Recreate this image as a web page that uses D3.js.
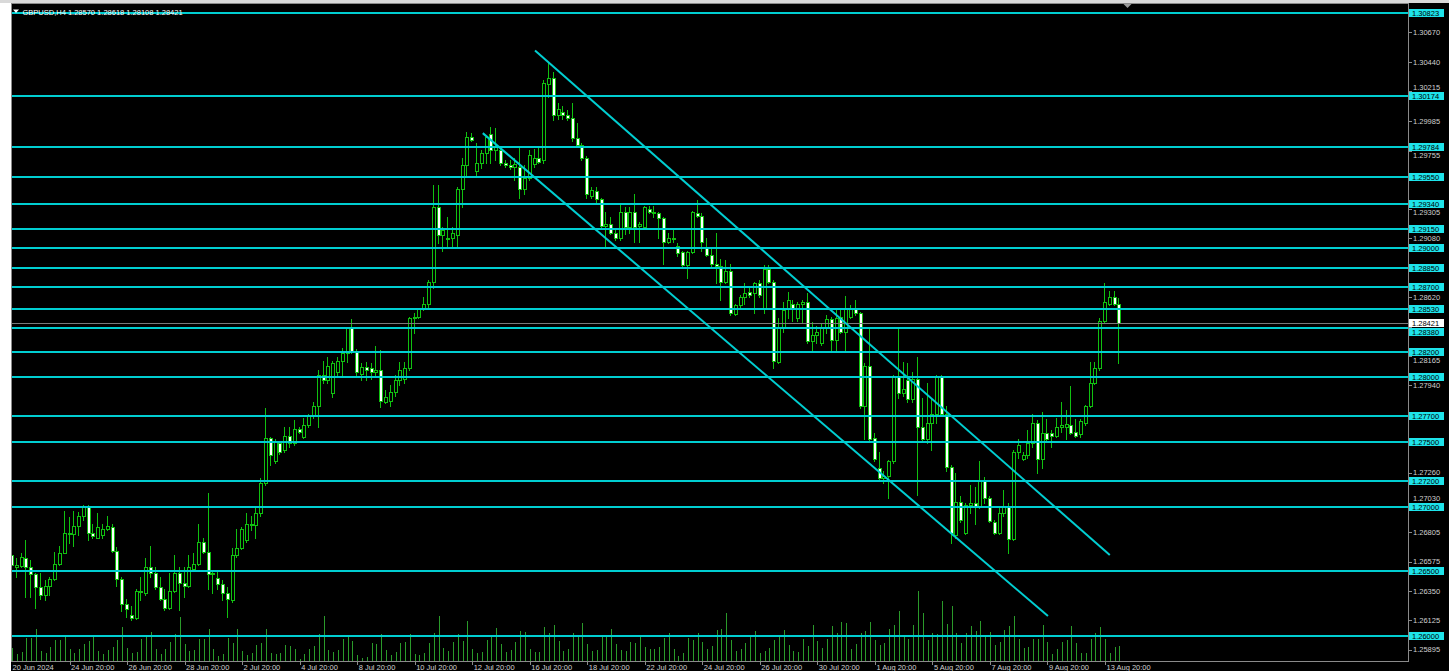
<!DOCTYPE html>
<html><head><meta charset="utf-8">
<script src="https://cdn.jsdelivr.net/npm/d3@7"></script>
<style>html,body{margin:0;padding:0;background:#000;overflow:hidden}svg{display:block}</style>
</head><body>
<svg id="chart" width="1449" height="671"></svg>
<script>
// ---------- DATA ----------
const symbolTitle = "GBPUSD,H4";
const opens = [
1.2663,1.2653,1.2654,1.2660,1.2653,1.2648,1.2638,1.2632,1.2639,1.2644,
1.2656,1.2664,1.2680,1.2679,1.2685,1.2693,1.2700,1.2680,1.2676,1.2678,
1.2683,1.2684,1.2666,1.2644,1.2625,1.2616,1.2614,1.2635,1.2633,1.2653,
1.2649,1.2638,1.2629,1.2622,1.2635,1.2649,1.2641,1.2639,1.2652,1.2656,
1.2673,1.2665,1.2648,1.2645,1.2640,1.2633,1.2628,1.2663,1.2668,1.2674,
1.2687,1.2686,1.2695,1.2718,1.2753,1.2735,1.2749,1.2744,1.2755,1.2749,
1.2760,1.2754,1.2763,1.2770,1.2778,1.2802,1.2798,1.2788,1.2804,1.2813,
1.2819,1.2838,1.2820,1.2803,1.2808,1.2807,1.2804,1.2806,1.2781,1.2782,
1.2789,1.2798,1.2799,1.2807,1.2846,1.2847,1.2853,1.2857,1.2874,1.2932,
1.2910,1.2908,1.2908,1.2910,1.2946,1.2964,1.2986,1.2960,1.2966,1.2974,
1.2988,1.2976,1.2976,1.2966,1.2964,1.2963,1.2963,1.2946,1.2954,1.2965,
1.2970,1.2968,1.3027,1.3032,1.3003,1.3005,1.3003,1.3001,1.2985,1.2980,
1.2970,1.2940,1.2944,1.2938,1.2917,1.2919,1.2912,1.2908,1.2928,1.2916,
1.2928,1.2917,1.2916,1.2930,1.2928,1.2927,1.2923,1.2905,1.2908,1.2902,
1.2897,1.2887,1.2897,1.2927,1.2925,1.2900,1.2895,1.2888,1.2886,1.2874,
1.2882,1.2849,1.2856,1.2862,1.2866,1.2865,1.2873,1.2853,1.2884,1.2874,
1.2812,1.2838,1.2853,1.2857,1.2846,1.2857,1.2858,1.2828,1.2833,1.2827,
1.2839,1.2845,1.2829,1.2847,1.2835,1.2847,1.2853,1.2850,1.2778,1.2809,
1.2753,1.2730,1.2722,1.2724,1.2735,1.2801,1.2788,1.2798,1.2783,1.2799,
1.2762,1.2752,1.2765,1.2772,1.2801,1.2772,1.2731,1.2678,1.2704,1.2680,
1.2701,1.2703,1.2700,1.2721,1.2707,1.2688,1.2680,1.2695,1.2700,1.2675,
1.2742,1.2737,1.2740,1.2749,1.2765,1.2737,1.2757,1.2757,1.2755,1.2762,
1.2762,1.2763,1.2758,1.2756,1.2765,1.2778,1.2796,1.2807,1.2844,1.2857,
1.2862,1.28570];
const highs = [
1.2680,1.2660,1.2664,1.2674,1.2659,1.2649,1.2649,1.2643,1.2646,1.2665,
1.2670,1.2697,1.2692,1.2697,1.2696,1.2701,1.2701,1.2687,1.2695,1.2687,
1.2693,1.2687,1.2669,1.2646,1.2629,1.2623,1.2636,1.2646,1.2660,1.2670,
1.2653,1.2646,1.2636,1.2649,1.2663,1.2653,1.2653,1.2663,1.2664,1.2687,
1.2676,1.2711,1.2651,1.2651,1.2643,1.2638,1.2668,1.2683,1.2684,1.2695,
1.2693,1.2700,1.2722,1.2776,1.2754,1.2752,1.2751,1.2762,1.2762,1.2767,
1.2762,1.2769,1.2772,1.2781,1.2806,1.2813,1.2816,1.2813,1.2816,1.2823,
1.2839,1.2845,1.2822,1.2811,1.2812,1.2811,1.2824,1.2821,1.2790,1.2794,
1.2802,1.2812,1.2812,1.2847,1.2850,1.2854,1.2862,1.2875,1.2949,1.2949,
1.2916,1.2924,1.2916,1.2947,1.2970,1.2990,1.2989,1.2981,1.2976,1.2987,
1.2994,1.2993,1.2977,1.2968,1.2968,1.2970,1.2978,1.2964,1.2976,1.2977,
1.2978,1.3030,1.3043,1.3036,1.3012,1.3010,1.3007,1.3012,1.2997,1.2981,
1.2971,1.2947,1.2947,1.2939,1.2928,1.2924,1.2915,1.2935,1.2932,1.2932,
1.2942,1.2920,1.2933,1.2933,1.2933,1.2928,1.2924,1.2912,1.2914,1.2904,
1.2898,1.2898,1.2929,1.2937,1.2927,1.2908,1.2900,1.2912,1.2892,1.2891,
1.2888,1.2857,1.2864,1.2873,1.2871,1.2874,1.2875,1.2887,1.2887,1.2875,
1.2846,1.2858,1.2866,1.2860,1.2858,1.2860,1.2865,1.2843,1.2840,1.2842,
1.2848,1.2847,1.2854,1.2852,1.2863,1.2856,1.2860,1.2851,1.2811,1.2839,
1.2757,1.2742,1.2728,1.2736,1.2802,1.2839,1.2812,1.2811,1.2804,1.2816,
1.2784,1.2796,1.2784,1.2802,1.2802,1.2778,1.2732,1.2726,1.2708,1.2703,
1.2717,1.2715,1.2735,1.2723,1.2708,1.2690,1.2700,1.2713,1.2703,1.2744,
1.2752,1.2742,1.2759,1.2772,1.2767,1.2773,1.2768,1.2759,1.2769,1.2781,
1.2775,1.2793,1.2768,1.2768,1.2779,1.2812,1.2812,1.2846,1.2873,1.2867,
1.2867,1.28618];
const lows = [
1.2653,1.2646,1.2653,1.2630,1.2630,1.2622,1.2629,1.2628,1.2632,1.2643,
1.2655,1.2664,1.2672,1.2670,1.2678,1.2690,1.2674,1.2676,1.2676,1.2676,
1.2682,1.2665,1.2639,1.2619,1.2615,1.2612,1.2613,1.2628,1.2632,1.2646,
1.2636,1.2628,1.2620,1.2621,1.2634,1.2620,1.2630,1.2638,1.2651,1.2655,
1.2664,1.2636,1.2633,1.2636,1.2628,1.2615,1.2626,1.2661,1.2667,1.2673,
1.2682,1.2676,1.2693,1.2717,1.2732,1.2734,1.2741,1.2742,1.2746,1.2748,
1.2757,1.2753,1.2762,1.2769,1.2762,1.2796,1.2796,1.2785,1.2800,1.2800,
1.2812,1.2819,1.2800,1.2798,1.2798,1.2799,1.2800,1.2777,1.2780,1.2778,
1.2786,1.2794,1.2796,1.2806,1.2834,1.2846,1.2852,1.2854,1.2869,1.2904,
1.2898,1.2901,1.2901,1.2901,1.2932,1.2956,1.2983,1.2955,1.2962,1.2966,
1.2966,1.2968,1.2964,1.2963,1.2961,1.2953,1.2939,1.2942,1.2953,1.2963,
1.2966,1.2966,1.3017,1.2999,1.3000,1.3000,1.2999,1.2983,1.2978,1.2968,
1.2939,1.2939,1.2935,1.2915,1.2901,1.2911,1.2906,1.2906,1.2911,1.2912,
1.2905,1.2905,1.2915,1.2927,1.2924,1.2908,1.2888,1.2904,1.2905,1.2894,
1.2885,1.2877,1.2896,1.2924,1.2898,1.2894,1.2885,1.2873,1.2860,1.2873,
1.2848,1.2848,1.2854,1.2857,1.2862,1.2850,1.2862,1.2850,1.2873,1.2807,
1.2811,1.2835,1.2846,1.2844,1.2844,1.2843,1.2827,1.2821,1.2827,1.2825,
1.2834,1.2821,1.2821,1.2834,1.2821,1.2846,1.2848,1.2776,1.2752,1.2750,
1.2735,1.2721,1.2718,1.2707,1.2734,1.2784,1.2786,1.2781,1.2781,1.2709,
1.2750,1.2749,1.2744,1.2765,1.2771,1.2728,1.2672,1.2676,1.2688,1.2679,
1.2695,1.2687,1.2699,1.2703,1.2688,1.2679,1.2679,1.2693,1.2664,1.2674,
1.2738,1.2736,1.2738,1.2746,1.2726,1.2730,1.2750,1.2746,1.2754,1.2758,
1.2752,1.2756,1.2754,1.2754,1.2763,1.2777,1.2795,1.2806,1.2843,1.2856,
1.2856,1.28108];
const closes = [
1.2655,1.2655,1.2661,1.2653,1.2648,1.2638,1.2632,1.2639,1.2644,1.2656,
1.2664,1.2680,1.2679,1.2685,1.2693,1.2700,1.2680,1.2677,1.2684,1.2683,
1.2685,1.2666,1.2644,1.2625,1.2621,1.2614,1.2635,1.2634,1.2653,1.2649,
1.2638,1.2629,1.2622,1.2635,1.2649,1.2641,1.2639,1.2653,1.2656,1.2673,
1.2665,1.2648,1.2649,1.2640,1.2633,1.2629,1.2663,1.2668,1.2683,1.2687,
1.2686,1.2695,1.2718,1.2753,1.2740,1.2750,1.2742,1.2755,1.2749,1.2760,
1.2758,1.2763,1.2770,1.2778,1.2802,1.2798,1.2809,1.2811,1.2813,1.2819,
1.2838,1.2820,1.2804,1.2808,1.2806,1.2804,1.2806,1.2782,1.2785,1.2789,
1.2798,1.2806,1.2807,1.2846,1.2847,1.2853,1.2857,1.2874,1.2932,1.2910,
1.2914,1.2907,1.2912,1.2946,1.2964,1.2986,1.2984,1.2966,1.2974,1.2986,
1.2976,1.2978,1.2966,1.2964,1.2963,1.2965,1.2946,1.2954,1.2972,1.2970,
1.2967,1.3028,1.3032,1.3003,1.3008,1.3003,1.3001,1.2985,1.2980,1.2970,
1.2942,1.2945,1.2938,1.2917,1.2919,1.2912,1.2908,1.2928,1.2916,1.2928,
1.2916,1.2919,1.2932,1.2928,1.2927,1.2923,1.2905,1.2908,1.2907,1.2896,
1.2887,1.2897,1.2928,1.2925,1.2905,1.2895,1.2888,1.2886,1.2874,1.2882,
1.2850,1.2856,1.2862,1.2865,1.2864,1.2873,1.2864,1.2884,1.2874,1.2813,
1.2838,1.2852,1.2860,1.2853,1.2857,1.2858,1.2828,1.2833,1.2835,1.2839,
1.2845,1.2829,1.2846,1.2835,1.2854,1.2853,1.2850,1.2778,1.2809,1.2752,
1.2737,1.2722,1.2724,1.2735,1.2801,1.2788,1.2791,1.2783,1.2799,1.2762,
1.2752,1.2765,1.2772,1.2801,1.2772,1.2731,1.2680,1.2704,1.2690,1.2701,
1.2703,1.2700,1.2721,1.2707,1.2689,1.2680,1.2695,1.2700,1.2675,1.2742,
1.2748,1.2740,1.2749,1.2765,1.2737,1.2757,1.2752,1.2755,1.2762,1.2763,
1.2764,1.2757,1.2755,1.2766,1.2778,1.2796,1.2807,1.2844,1.2858,1.2862,
1.2857,1.28421];
const volumes = [
13,7,9,23,23,32,10,8,14,21,
21,26,12,8,12,17,20,26,10,7,
11,14,21,34,13,8,9,22,26,29,
12,7,12,19,27,44,17,10,11,22,
22,32,12,5,7,23,18,32,10,6,
8,16,18,32,8,7,8,16,15,12,
2,7,12,15,27,45,11,9,11,22,
25,20,6,3,4,18,17,27,11,6,
9,18,19,27,7,6,8,18,28,45,
13,10,19,27,20,40,12,8,9,21,
25,33,17,9,11,19,30,29,12,9,
9,34,28,36,20,10,12,28,25,38,
17,10,11,26,26,32,17,11,10,19,
18,26,14,12,12,14,23,28,12,5,
8,23,21,28,19,12,15,31,32,48,
21,10,12,18,24,30,8,10,13,21,
25,31,16,10,9,22,15,36,20,13,
22,35,28,39,38,12,17,28,30,39,
21,16,18,32,36,50,26,22,36,70,
48,21,28,27,60,37,55,28,18,28,
35,30,40,25,29,16,19,31,35,45,
22,13,14,22,22,36,19,7,12,19,
21,35,18,8,8,22,28,34,22,8,
14,15];
const timeLabels = ["20 Jun 2024","24 Jun 20:00","26 Jun 20:00","28 Jun 20:00","2 Jul 20:00","4 Jul 20:00",
  "8 Jul 20:00","10 Jul 20:00","12 Jul 20:00","16 Jul 20:00","18 Jul 20:00","22 Jul 20:00","24 Jul 20:00",
  "26 Jul 20:00","30 Jul 20:00","1 Aug 20:00","5 Aug 20:00","7 Aug 20:00","9 Aug 20:00","13 Aug 20:00"];
const barsPerTimeLabel = 12;
const priceTicks = [1.30670,1.30440,1.30215,1.29985,1.29755,1.29530,1.29305,1.29080,1.28850,1.28620,1.28390,
  1.28165,1.27940,1.27710,1.27485,1.27260,1.27030,1.26805,1.26575,1.26350,1.26125,1.25895];
const levelLines = [1.30823,1.30174,1.29784,1.29550,1.29340,1.29150,1.29000,1.28850,1.28700,1.28530,1.28380,
  1.28200,1.28000,1.27700,1.27500,1.27200,1.27000,1.26500,1.26000];
const currentPrice = 1.28421;
// channel trend lines: [bar index, price]
const upperChannel = [[109.1, 1.30530], [229.0, 1.26626]];
const lowerChannel = [[98.2, 1.29890], [216.1, 1.26154]];

// ---------- DRAW ----------
const W = 1449, H = 671;
const L = 11, R = 1408, T = 3, B = 661;
const FONT = '"Liberation Sans", Arial, sans-serif';
const CANDLE = "#10c010", VOLC = "#2a9a2a", CYAN = "#00ced1", CYANBOX = "#1ee3ea", AXIS_TXT = "#d0d0d0";
const BOXH = 8;

const svg = d3.select("#chart");
const x = d3.scaleLinear().domain([0, 228]).range([12, 1105]);
const y = d3.scaleLinear().domain([1.26, 1.30823]).range([636, 12.5]);
const v = d3.scaleLinear().domain([0, 100]).range([B, B - 100]);

const bars = closes.map((c, i) => ({ i, o: opens[i], h: highs[i], l: lows[i], c, vol: volumes[i] }));

svg.append("rect").attr("width", W).attr("height", H).attr("fill", "#ffffff");
svg.append("rect").attr("x", 0).attr("y", 0).attr("width", W).attr("height", T).attr("fill", "#d9d9d9");
svg.append("rect").attr("x", L).attr("y", T).attr("width", W - L).attr("height", H - T).attr("fill", "#000");

svg.append("defs").append("clipPath").attr("id", "plot")
  .append("rect").attr("x", L + 1).attr("y", T + 1).attr("width", R - L - 1).attr("height", B - T - 1);
const plot = svg.append("g").attr("clip-path", "url(#plot)");

// volumes
plot.append("g").selectAll("line").data(bars).join("line")
  .attr("x1", d => Math.round(x(d.i)) + 0.5).attr("x2", d => Math.round(x(d.i)) + 0.5)
  .attr("y1", v(0)).attr("y2", d => Math.round(v(d.vol)))
  .attr("stroke", VOLC).attr("stroke-width", 1);

// candles
const cg = plot.append("g").attr("shape-rendering", "crispEdges");
cg.selectAll("line").data(bars).join("line")
  .attr("x1", d => Math.round(x(d.i)) - 0.5).attr("x2", d => Math.round(x(d.i)) - 0.5)
  .attr("y1", d => Math.round(y(d.h))).attr("y2", d => Math.round(y(d.l)) + 1)
  .attr("stroke", CANDLE).attr("stroke-width", 1);
cg.selectAll("path").data(bars).join("path")
  .attr("d", d => {
    const r = Math.round(x(d.i));
    const t = Math.round(y(Math.max(d.o, d.c))) + 0.5;
    const b = Math.round(y(Math.min(d.o, d.c))) + 0.5;
    return `M${r - 1.5},${t}H${r + 1.5}V${b}H${r - 1.5}Z`;
  })
  .attr("fill", d => d.c < d.o ? "#ffffff" : "#000000")
  .attr("stroke", CANDLE).attr("stroke-width", 1);

// horizontal level lines
plot.append("g").selectAll("line").data(levelLines).join("line")
  .attr("x1", L + 1).attr("x2", R).attr("y1", d => Math.round(y(d))).attr("y2", d => Math.round(y(d)))
  .attr("stroke", CYAN).attr("stroke-width", 2);

// current price line
plot.append("line").attr("x1", L + 1).attr("x2", R)
  .attr("y1", Math.round(y(currentPrice)) + 0.5).attr("y2", Math.round(y(currentPrice)) + 0.5)
  .attr("stroke", "#7a7a7a").attr("stroke-width", 1);

// channel
plot.append("g").selectAll("line").data([upperChannel, lowerChannel]).join("line")
  .attr("x1", d => x(d[0][0])).attr("y1", d => y(d[0][1]))
  .attr("x2", d => x(d[1][0])).attr("y2", d => y(d[1][1]))
  .attr("stroke", CYAN).attr("stroke-width", 2);

// frame
const fr = svg.append("g").attr("stroke", "#8a8a8a").attr("stroke-width", 1).attr("shape-rendering", "crispEdges");
fr.append("line").attr("x1", L + 0.5).attr("x2", L + 0.5).attr("y1", T).attr("y2", B + 1);
fr.append("line").attr("x1", L).attr("x2", R + 1).attr("y1", T + 0.5).attr("y2", T + 0.5);
fr.append("line").attr("x1", R + 0.5).attr("x2", R + 0.5).attr("y1", T).attr("y2", B + 1);
fr.append("line").attr("x1", L).attr("x2", R + 1).attr("y1", B + 0.5).attr("y2", B + 0.5);

// ---- right-axis label boxes: level boxes pushed off the current-price box ----
const cpY = Math.round(y(currentPrice));
function boxTop(p) {
  const ly = Math.round(y(p));
  let top = ly - BOXH / 2;
  if (Math.abs(ly - cpY) < BOXH + 1) top = ly > cpY ? cpY + BOXH / 2 + 1 : cpY - BOXH / 2 - BOXH - 1;
  return top;
}
const boxes = levelLines.map(p => ({ top: boxTop(p), bot: boxTop(p) + BOXH }))
  .concat([{ top: cpY - BOXH / 2, bot: cpY + BOXH / 2 }]);

// gray axis labels: hidden when they sit on a level, otherwise nudged clear of the boxes
const ASC = 7, DESC = 1.7;
const tickLabels = [];
priceTicks.forEach(p => {
  const py = y(p);
  if (py < T + 2 || py > B - 2) return;
  if (levelLines.some(l => Math.abs(y(l) - py) < 3) || Math.abs(y(currentPrice) - py) < 3) return;
  let b = py + 2.8;
  for (let k = 0; k < 4; k++) {
    const hit = boxes.find(bx => b - ASC < bx.bot && b + DESC > bx.top);
    if (!hit) break;
    b = (b - 2.6) > (hit.top + hit.bot) / 2 ? hit.bot + ASC + 0.3 : hit.top - DESC - 0.3;
  }
  tickLabels.push({ p, py, b });
});
const ra = svg.append("g").attr("font-family", FONT).attr("font-size", "7.5px");
ra.selectAll("line").data(priceTicks.filter(p => y(p) > T + 2 && y(p) < B - 2)).join("line")
  .attr("x1", R + 1).attr("x2", R + 4).attr("y1", d => Math.round(y(d)) + 0.5).attr("y2", d => Math.round(y(d)) + 0.5)
  .attr("stroke", "#8a8a8a");
ra.selectAll("text").data(tickLabels).join("text")
  .attr("x", R + 5).attr("y", d => d.b).attr("fill", AXIS_TXT)
  .text(d => d.p.toFixed(5));

const lb = svg.append("g").attr("font-family", FONT).attr("font-size", "7.5px");
const lvl = lb.selectAll("g").data(levelLines).join("g");
lvl.append("rect").attr("x", R + 1).attr("y", d => boxTop(d)).attr("width", 35).attr("height", BOXH)
  .attr("fill", CYANBOX);
lvl.append("text").attr("x", R + 4).attr("y", d => boxTop(d) + 7).attr("fill", "#000").text(d => d.toFixed(5));
const cp = lb.append("g");
cp.append("rect").attr("x", R + 1).attr("y", cpY - BOXH / 2).attr("width", 35).attr("height", BOXH).attr("fill", "#ffffff");
cp.append("text").attr("x", R + 4).attr("y", cpY - BOXH / 2 + 7).attr("fill", "#000").text(currentPrice.toFixed(5));

// time axis
const ta = svg.append("g").attr("font-family", FONT).attr("font-size", "7.5px");
const tIdx = timeLabels.map((t, k) => ({ t, i: k * barsPerTimeLabel }));
ta.selectAll("line").data(tIdx.slice(1)).join("line")
  .attr("x1", d => Math.round(x(d.i)) + 0.5).attr("x2", d => Math.round(x(d.i)) + 0.5)
  .attr("y1", B + 1).attr("y2", B + 4).attr("stroke", "#8a8a8a");
ta.selectAll("text").data(tIdx).join("text")
  .attr("x", d => x(d.i) + (d.i === 0 ? 0.5 : 1.5)).attr("y", 670).attr("fill", AXIS_TXT).text(d => d.t);

// header
svg.append("path").attr("d", "M13,9.5L19,9.5L16,13Z").attr("fill", "#ffffff");
const last = bars[bars.length - 1];
svg.append("text").attr("x", 22.5).attr("y", 14.5).attr("font-family", FONT).attr("font-size", "7.5px")
  .attr("fill", "#ffffff")
  .text(`${symbolTitle}  ${last.o.toFixed(5)} ${last.h.toFixed(5)} ${last.l.toFixed(5)} ${last.c.toFixed(5)}`);

// chart shift marker
svg.append("path").attr("d", "M1123.5,4L1131.5,4L1127.5,8Z").attr("fill", "#9a9a9a");
</script>
</body></html>
